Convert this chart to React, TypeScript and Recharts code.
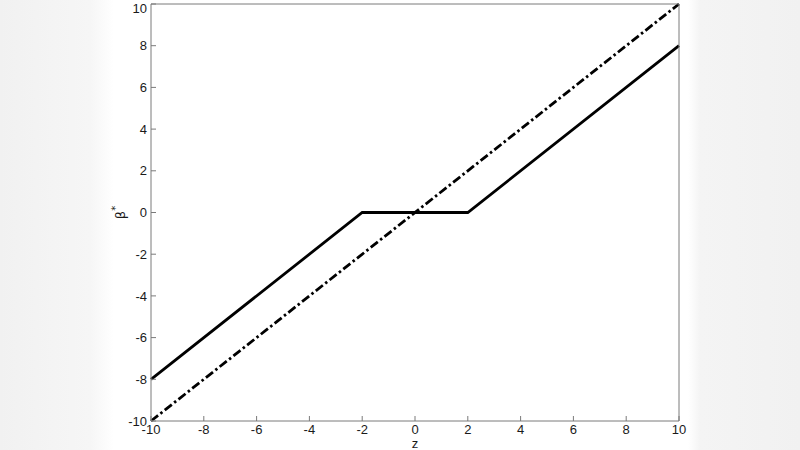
import { LineChart, Line, XAxis, YAxis } from "recharts";

// solid curve: soft thresholding with lambda = 2
const solidZ = [-10, -2, 2, 10];
const solidBeta = [-8, 0, 0, 8];

// dash-dot curve: identity line
const identZ = [-10, 10];
const identBeta = [-10, 10];

const xTicks = [-10, -8, -6, -4, -2, 0, 2, 4, 6, 8, 10];
const yTicks = [-10, -8, -6, -4, -2, 0, 2, 4, 6, 8, 10];

const solidData = solidZ.map((z, i) => ({ z, beta: solidBeta[i] }));
const identData = identZ.map((z, i) => ({ z, beta: identBeta[i] }));

const axisColor = "#7a7a7a";
const tickFont = { fontSize: 13, fill: "#1a1a1a", fontFamily: "Liberation Sans, Arial, sans-serif" };

export default function App() {
  return (
    <div
      style={{
        position: "absolute",
        left: 0,
        top: 0,
        width: 800,
        height: 450,
        background:
          "linear-gradient(to right, #f1f1f1 0px, #f6f6f6 90px, #ffffff 114px, #ffffff 688px, #f4f4f4 700px, #f1f1f1 800px)",
      }}
    >
      <LineChart
        width={800}
        height={450}
        margin={{ top: 3, right: 120, bottom: 28, left: 150 }}
        style={{ fontFamily: "Liberation Sans, Arial, sans-serif" }}
      >
        <XAxis
          xAxisId="b"
          dataKey="z"
          type="number"
          domain={[-10, 10]}
          ticks={xTicks}
          height={1}
          tickSize={-5}
          tickMargin={9}
          stroke={axisColor}
          tick={tickFont}
          label={{
            content: ({ viewBox }: any) => (
              <text
                x={viewBox.x + viewBox.width / 2}
                y={viewBox.y + 27}
                textAnchor="middle"
                fontSize={13}
                fill="#1a1a1a"
                fontFamily="Liberation Sans, Arial, sans-serif"
              >
                z
              </text>
            ),
          }}
        />
        <XAxis
          xAxisId="t"
          orientation="top"
          dataKey="z"
          type="number"
          domain={[-10, 10]}
          ticks={xTicks}
          height={1}
          tickSize={-5}
          stroke={axisColor}
          tickFormatter={() => ""}
        />
        <YAxis
          yAxisId="l"
          dataKey="beta"
          type="number"
          domain={[-10, 10]}
          ticks={yTicks}
          width={1}
          tickSize={-5}
          tickMargin={9}
          stroke={axisColor}
          tick={tickFont}
          label={{
            content: ({ viewBox }: any) => {
              const cx = viewBox.x + viewBox.width - 31;
              const cy = viewBox.y + viewBox.height / 2;
              return (
                <text
                  x={cx}
                  y={cy}
                  textAnchor="middle"
                  dominantBaseline="central"
                  transform={`rotate(-90 ${cx} ${cy})`}
                  fontSize={13}
                  fill="#1a1a1a"
                  fontFamily="DejaVu Sans, sans-serif"
                >
                  β
                  <tspan fontSize={10} dy={-5}>
                    *
                  </tspan>
                </text>
              );
            },
          }}
        />
        <YAxis
          yAxisId="r"
          orientation="right"
          dataKey="beta"
          type="number"
          domain={[-10, 10]}
          ticks={yTicks}
          width={1}
          tickSize={-5}
          stroke={axisColor}
          tickFormatter={() => ""}
        />
        <Line
          xAxisId="b"
          yAxisId="l"
          data={identData}
          dataKey="beta"
          type="linear"
          stroke="#000"
          strokeWidth={2.8}
          strokeDasharray="9 3 2.5 3"
          dot={false}
          isAnimationActive={false}
        />
        <Line
          xAxisId="b"
          yAxisId="l"
          data={solidData}
          dataKey="beta"
          type="linear"
          stroke="#000"
          strokeWidth={2.8}
          dot={false}
          isAnimationActive={false}
        />
      </LineChart>
    </div>
  );
}
